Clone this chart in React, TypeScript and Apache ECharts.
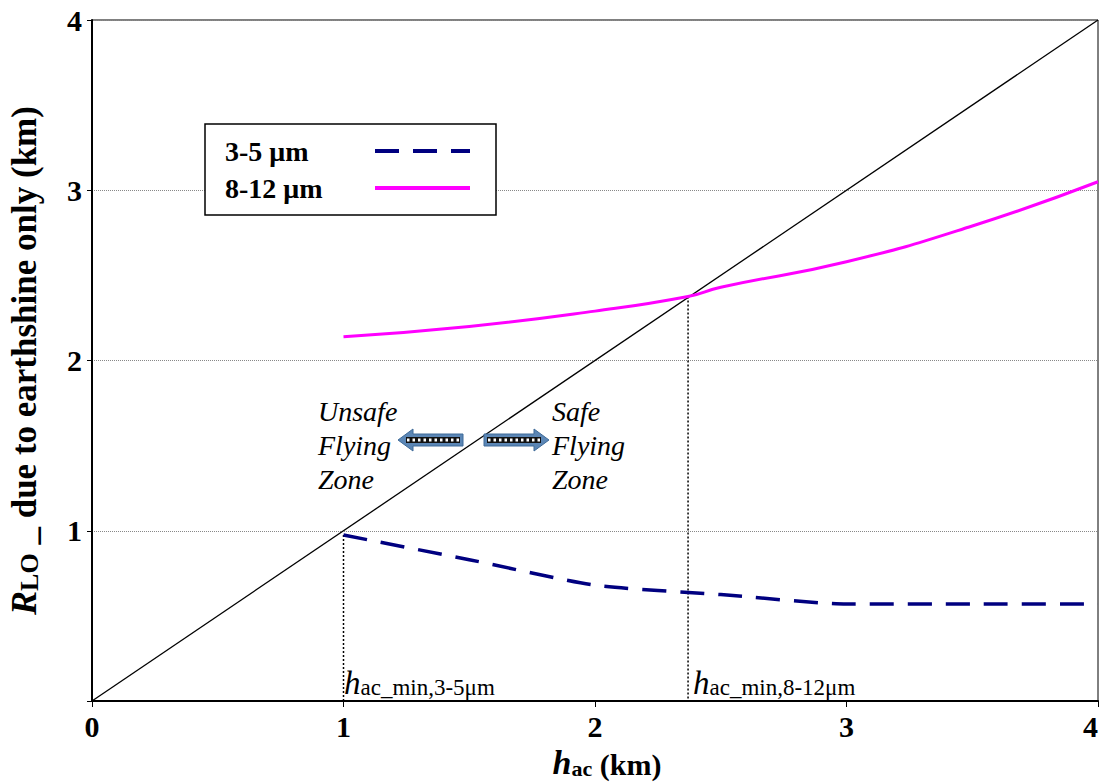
import React, { useEffect, useRef } from "react";
import * as echarts from "echarts";

const FONT = "'Liberation Serif', 'Times New Roman', serif";

const xTicks = [0, 1, 2, 3, 4];
const yTicks = [0, 1, 2, 3, 4];

const diagX = [0, 4];
const diagY = [0, 4];

const lwirX = [1, 1.5, 2, 2.37, 2.5, 3, 3.5, 4];
const lwirY = [2.14, 2.2, 2.29, 2.376, 2.43, 2.58, 2.79, 3.05];

const mwirX = [1, 1.5, 2, 2.5, 3, 3.5, 4];
const mwirY = [0.975, 0.83, 0.68, 0.625, 0.57, 0.57, 0.57];

const hMinMwir = 1;
const hMinMwirTop = 0.975;
const hMinLwir = 2.37;
const hMinLwirTop = 2.376;

const seriesNames = ["3-5 μm", "8-12 μm"];

function zip(xs: number[], ys: number[]) {
  return xs.map((x, i) => [x, ys[i]]);
}

function arrow(dir: "left" | "right", x0: number, x1: number, cy: number) {
  const headLen = 15;
  const hh = 11;
  const sh = 6;
  let pts: number[][];
  let innerX0: number, innerX1: number;
  if (dir === "left") {
    const hx = x0 + headLen;
    pts = [[x0, cy], [hx, cy - hh], [hx, cy - sh], [x1, cy - sh], [x1, cy + sh], [hx, cy + sh], [hx, cy + hh]];
    innerX0 = x0 + 8;
    innerX1 = x1 - 3;
  } else {
    const hx = x1 - headLen;
    pts = [[x1, cy], [hx, cy - hh], [hx, cy - sh], [x0, cy - sh], [x0, cy + sh], [hx, cy + sh], [hx, cy + hh]];
    innerX0 = x0 + 3;
    innerX1 = x1 - 8;
  }
  return [
    { type: "polygon", shape: { points: pts }, style: { fill: "#5b86b5", stroke: "#3f6b99", lineWidth: 1 }, z: 10 },
    { type: "rect", shape: { x: innerX0, y: cy - 3, width: innerX1 - innerX0, height: 6 }, style: { fill: "#111" }, z: 11 },
    { type: "line", shape: { x1: innerX0 + 1, y1: cy, x2: innerX1 - 1, y2: cy }, style: { stroke: "#fff", lineWidth: 3, lineDash: [2.5, 3] }, z: 12 },
  ];
}

export default function App() {
  const ref = useRef<HTMLDivElement>(null);
  useEffect(() => {
    if (!ref.current) return;
    const chart = echarts.init(ref.current, null, { renderer: "svg" });
    const zoneStyle = { fontFamily: FONT, fontSize: 28, fontStyle: "italic", fill: "#000", lineHeight: 34 };
    const hStyle = {
      rich: {
        h: { fontFamily: FONT, fontSize: 33, fontStyle: "italic", fill: "#000", verticalAlign: "bottom", lineHeight: 30 },
        s: { fontFamily: FONT, fontSize: 23, fill: "#000", verticalAlign: "bottom", lineHeight: 24 },
      },
    };
    const option: any = {
      animation: false,
      backgroundColor: "#fff",
      grid: {
        left: 92, right: 3, top: 20, bottom: 83, show: true, borderColor: "#000", borderWidth: 1,
        backgroundColor: "transparent", outerBoundsMode: "none", containLabel: false,
      },
      legend: {
        data: seriesNames,
        orient: "vertical",
        left: 205,
        top: 124,
        padding: [13, 24, 13, 20],
        itemGap: 9,
        itemWidth: 95,
        itemHeight: 14,
        align: "right",
        borderColor: "#000",
        borderWidth: 1.5,
        backgroundColor: "#fff",
        itemStyle: { opacity: 0 },
        lineStyle: { width: 4 },
        formatter: "{a|{name}}",
        textStyle: {
          color: "#000",
          rich: {
            a: { fontFamily: FONT, fontSize: 28, fontWeight: "bold", color: "#000", width: 145, lineHeight: 26, align: "left" },
          },
        },
      },
      xAxis: {
        type: "value",
        min: xTicks[0],
        max: xTicks[xTicks.length - 1],
        interval: 1,
        name: "{h|h}{s|ac}{t| (km)}",
        nameLocation: "middle",
        nameGap: 45,
        nameTextStyle: {
          padding: [0, 0, 0, 24],
          rich: {
            h: { fontFamily: FONT, fontSize: 34, fontStyle: "italic", fontWeight: "bold", color: "#000", verticalAlign: "bottom", lineHeight: 32 },
            s: { fontFamily: FONT, fontSize: 22, fontWeight: "bold", color: "#000", verticalAlign: "bottom", lineHeight: 26 },
            t: { fontFamily: FONT, fontSize: 30, fontWeight: "bold", color: "#000", verticalAlign: "bottom", lineHeight: 30 },
          },
        },
        axisLine: { lineStyle: { color: "#000", width: 2 } },
        axisTick: { show: true, length: 6, lineStyle: { color: "#000", width: 1 } },
        axisLabel: { fontFamily: FONT, fontSize: 30, fontWeight: "bold", color: "#000", margin: 10, alignMaxLabel: "right" },
        splitLine: { show: false },
      },
      yAxis: {
        type: "value",
        min: yTicks[0],
        max: yTicks[yTicks.length - 1],
        interval: 1,
        name: "{r|R}{lo|LO}{t| _ due to earthshine only (km)}",
        nameLocation: "middle",
        nameGap: 50,
        nameRotate: 90,
        nameTextStyle: {
          rich: {
            r: { fontFamily: FONT, fontSize: 36, fontStyle: "italic", fontWeight: "bold", color: "#000", verticalAlign: "bottom", lineHeight: 34 },
            lo: { fontFamily: FONT, fontSize: 26, fontWeight: "bold", color: "#000", verticalAlign: "bottom", lineHeight: 30 },
            t: { fontFamily: FONT, fontSize: 35, fontWeight: "bold", color: "#000", verticalAlign: "bottom", lineHeight: 34 },
          },
        },
        axisLine: { lineStyle: { color: "#000", width: 2 } },
        axisTick: { show: true, length: 5, lineStyle: { color: "#000", width: 1 } },
        axisLabel: {
          fontFamily: FONT,
          fontSize: 30,
          fontWeight: "bold",
          color: "#000",
          margin: 10,
          formatter: (v: number) => (v === 0 ? "" : String(v)),
        },
        splitLine: { show: true, lineStyle: { color: "#888", type: "dotted", width: 1 } },
      },
      series: [
        {
          name: "diag",
          type: "line",
          data: zip(diagX, diagY),
          symbol: "none",
          lineStyle: { color: "#000", width: 1.3 },
          z: 3,
        },
        {
          name: seriesNames[0],
          type: "line",
          data: zip(mwirX, mwirY),
          symbol: "none",
          smooth: 0.2,
          color: "#000080",
          lineStyle: { color: "#000080", width: 3.5, type: [24, 14] },
          z: 4,
        },
        {
          name: seriesNames[1],
          type: "line",
          data: zip(lwirX, lwirY),
          symbol: "none",
          smooth: true,
          color: "#ff00ff",
          lineStyle: { color: "#ff00ff", width: 3 },
          z: 4,
        },
        {
          name: "vmwir",
          type: "line",
          data: [[hMinMwir, hMinMwirTop], [hMinMwir, 0]],
          symbol: "none",
          lineStyle: { color: "#000", width: 1.5, type: [2, 2] },
          z: 2,
        },
        {
          name: "vlwir",
          type: "line",
          data: [[hMinLwir, hMinLwirTop], [hMinLwir, 0]],
          symbol: "none",
          lineStyle: { color: "#000", width: 1.5, type: [2, 2] },
          z: 2,
        },
      ],
      graphic: [
        { type: "text", left: 318, top: 394, style: { ...zoneStyle, text: "Unsafe\nFlying\nZone" }, z: 10 },
        { type: "text", left: 552, top: 394, style: { ...zoneStyle, text: "Safe\nFlying\nZone" }, z: 10 },
        ...arrow("left", 398, 463, 440),
        ...arrow("right", 484, 549, 440),
        { type: "text", x: 344, y: 699, style: { ...hStyle, text: "{h|h}{s|ac_min,3-5μm}", verticalAlign: "bottom", align: "left" }, z: 10 },
        { type: "text", x: 693, y: 699, style: { ...hStyle, text: "{h|h}{s|ac_min,8-12μm}", verticalAlign: "bottom", align: "left" }, z: 10 },
      ],
    };
    chart.setOption(option);
    return () => chart.dispose();
  }, []);
  return (
    <div
      ref={ref}
      style={{ position: "fixed", left: 0, top: 0, width: 1101, height: 784, background: "#fff" }}
    />
  );
}
